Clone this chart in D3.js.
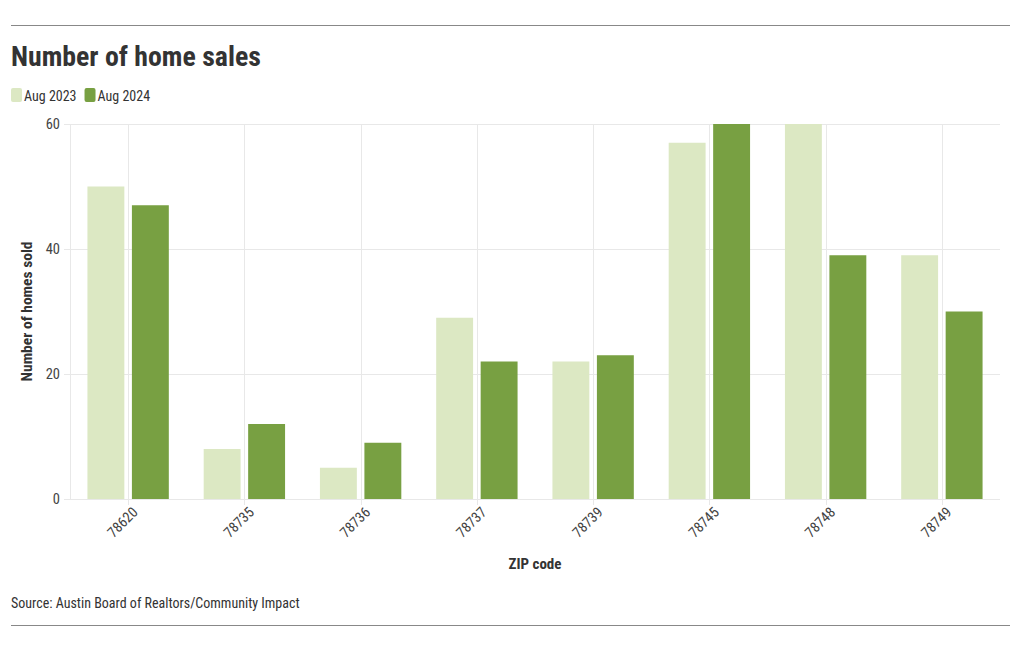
<!DOCTYPE html>
<html><head><meta charset="utf-8">
<script src="https://cdn.jsdelivr.net/npm/d3@7"></script>
<style>
body{margin:0;background:#fff;}
text{font-family:"Roboto Condensed","Liberation Sans Narrow","Roboto",sans-serif;}
</style></head><body>
<svg id="c" width="1020" height="650"></svg>
<script>
const zips = ["78620","78735","78736","78737","78739","78745","78748","78749"];
const series = ["Aug 2023","Aug 2024"];
const aug2023 = [50,8,5,29,22,57,60,39];
const aug2024 = [47,12,9,22,23,60,39,30];
const yTicks = [0,20,40,60];
const colors = ["#dce8c3","#78a042"];

const FF='"Roboto Condensed","Liberation Sans Narrow","Roboto",sans-serif';
const svg = d3.select("#c");
const m={l:70,r:1000,t:124,b:499};

svg.append("line").attr("x1",11).attr("x2",1010).attr("y1",25.5).attr("y2",25.5).attr("stroke","#888").attr("stroke-width",1);
svg.append("line").attr("x1",11).attr("x2",1010).attr("y1",625.5).attr("y2",625.5).attr("stroke","#888").attr("stroke-width",1);

svg.append("text").attr("x",11).attr("y",66).attr("font-size",27.8).attr("font-weight",700).attr("fill","#333").text("Number of home sales");

let lx=11;
series.forEach((s,i)=>{
  svg.append("rect").attr("x",lx).attr("y",88).attr("width",11).attr("height",14).attr("rx",2).attr("fill",colors[i]);
  const t=svg.append("text").attr("x",lx+13).attr("y",101).attr("font-size",14).attr("fill","#333").text(s);
  lx += 13 + t.node().getComputedTextLength()+8;
});

const x=d3.scaleBand().domain(zips).range([m.l,m.r]).paddingInner(0.3).paddingOuter(0.15);
const xc=d3.scalePoint().domain(zips).range([m.l,m.r]).padding(0.5);
const x1=d3.scaleBand().domain(series).range([0,x.bandwidth()]).paddingInner(0.17);
const y=d3.scaleLinear().domain([0,60]).range([m.b,m.t]);

const g=svg.append("g");
g.selectAll(".hg").data(yTicks).enter().append("line").attr("x1",m.l).attr("x2",m.r).attr("y1",d=>Math.round(y(d))+0.5).attr("y2",d=>Math.round(y(d))+0.5).attr("stroke","#e8e8e8");
g.selectAll(".vg").data(zips).enter().append("line").attr("x1",d=>Math.round(xc(d))+0.5).attr("x2",d=>Math.round(xc(d))+0.5).attr("y1",m.t).attr("y2",m.b+6).attr("stroke","#e8e8e8");
g.append("line").attr("x1",m.l+0.5).attr("x2",m.l+0.5).attr("y1",m.t).attr("y2",m.b).attr("stroke","#e8e8e8");

const ya=svg.append("g").attr("transform",`translate(${m.l},0)`).call(d3.axisLeft(y).tickValues(yTicks).tickSize(6).tickPadding(4));
ya.select(".domain").remove();
ya.selectAll(".tick line").attr("stroke","#e8e8e8");
ya.selectAll("text").attr("font-size",14.5).attr("fill","#444").style("font-family",FF);

const xa=svg.append("g").attr("transform",`translate(0,${m.b})`).call(d3.axisBottom(xc).tickSize(0).tickPadding(10));
xa.select(".domain").remove();
xa.selectAll("text").attr("font-size",14.5).attr("fill","#444").style("font-family",FF)
  .attr("text-anchor","end").attr("dy","0").attr("transform","translate(3,7) rotate(-45)");

const data=zips.map((z,i)=>({z,vals:[aug2023[i],aug2024[i]]}));
const grp=svg.append("g").selectAll("g").data(data).enter().append("g").attr("transform",d=>`translate(${x(d.z)},0)`);
grp.selectAll("rect").data(d=>d.vals.map((v,i)=>({s:series[i],v,i}))).enter().append("rect")
  .attr("x",d=>x1(d.s)).attr("width",x1.bandwidth()).attr("y",d=>y(d.v)).attr("height",d=>y(0)-y(d.v)).attr("fill",d=>colors[d.i]);

svg.append("text").attr("transform",`translate(32,${(m.t+m.b)/2}) rotate(-90)`).attr("text-anchor","middle").attr("font-size",15.5).attr("font-weight",700).attr("fill","#333").text("Number of homes sold");
svg.append("text").attr("x",(m.l+m.r)/2).attr("y",569).attr("text-anchor","middle").attr("font-size",15).attr("font-weight",700).attr("fill","#333").text("ZIP code");

svg.append("text").attr("x",11).attr("y",608).attr("font-size",14).attr("fill","#333").text("Source: Austin Board of Realtors/Community Impact");
</script></body></html>
